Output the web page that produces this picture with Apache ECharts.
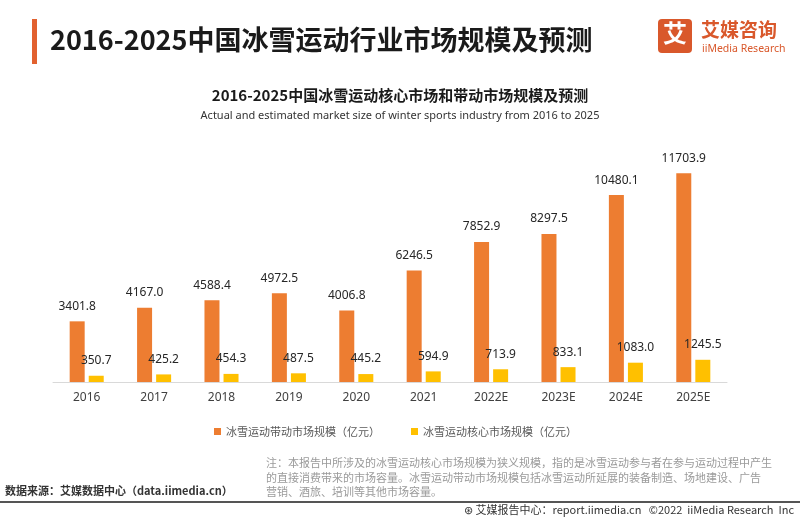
<!DOCTYPE html>
<html>
<head>
<meta charset="utf-8">
<script src="https://cdn.jsdelivr.net/npm/echarts@6/dist/echarts.min.js"></script>
<style>
html,body{margin:0;padding:0;background:#fff;}
#main{width:800px;height:520px;}
</style>
</head>
<body>
<div id="main"></div>
<script>
const categories = ['2016','2017','2018','2019','2020','2021','2022E','2023E','2024E','2025E'];
const drivenMarket = [3401.8,4167.0,4588.4,4972.5,4006.8,6246.5,7852.9,8297.5,10480.1,11703.9];
const coreMarket = [350.7,425.2,454.3,487.5,445.2,594.9,713.9,833.1,1083.0,1245.5];
const seriesNames = ['冰雪运动带动市场规模（亿元）','冰雪运动核心市场规模（亿元）'];

const CJK = '"Noto Sans CJK SC", "Noto Sans", sans-serif';
const LAT = '"Noto Sans", sans-serif';

const chart = echarts.init(document.getElementById('main'), null, {renderer:'canvas'});
chart.setOption({
  backgroundColor:'#ffffff',
  animation:false,
  textStyle:{fontFamily:CJK},
  grid:{left:53,right:73,top:168,bottom:138},
  legend:{
    bottom:78,left:209,itemWidth:7,itemHeight:7,itemGap:31,
    icon:'rect',
    textStyle:{fontSize:11,color:'#595959',fontFamily:CJK},
    data:seriesNames
  },
  xAxis:{
    type:'category',data:categories,
    axisLine:{lineStyle:{color:'#d9d9d9',width:1}},
    axisTick:{show:false},
    axisLabel:{color:'#404040',fontSize:12,fontFamily:LAT,margin:10}
  },
  yAxis:{type:'value',min:0,max:12000,show:false,splitLine:{show:false}},
  series:[
    {name:seriesNames[0],type:'bar',data:drivenMarket,barWidth:15,barGap:'27%',
     itemStyle:{color:'#ED7D31'},
     label:{show:true,position:'top',distance:9,color:'#262626',fontSize:12,fontFamily:LAT,
       formatter:p=>p.value.toFixed(1)}},
    {name:seriesNames[1],type:'bar',data:coreMarket,barWidth:15,
     itemStyle:{color:'#FFC000'},
     label:{show:true,position:'top',distance:9,color:'#262626',fontSize:12,fontFamily:LAT,
       formatter:p=>p.value.toFixed(1)}}
  ],
  graphic:[
    {type:'rect',left:32,top:19,shape:{width:5,height:45},style:{fill:'#E2612F'}},
    {type:'text',left:50,top:26,style:{text:'2016-2025中国冰雪运动行业市场规模及预测',font:'bold 27px '+CJK,fill:'#1a1a1a'}},
    {type:'rect',left:658,top:19,shape:{width:34,height:34,r:4},style:{fill:'#D9582B'}},
    {type:'text',left:663,top:21,style:{text:'艾',font:'bold 24px '+CJK,fill:'#ffffff'}},
    {type:'text',left:701,top:20,style:{text:'艾媒咨询',font:'bold 19px '+CJK,fill:'#D9582B'}},
    {type:'text',left:702,top:44,style:{text:'iiMedia Research',font:'10.5px "Noto Sans", sans-serif',fill:'#D9582B'}},
    {type:'text',left:'center',top:88,style:{text:'2016-2025中国冰雪运动核心市场和带动市场规模及预测',font:'bold 15px '+CJK,fill:'#1a1a1a'}},
    {type:'text',left:'center',top:110,style:{text:'Actual and estimated market size of winter sports industry from 2016 to 2025',font:'11px "Noto Sans", sans-serif',fill:'#333333'}},
    {type:'text',left:266,top:456,style:{text:'注：本报告中所涉及的冰雪运动核心市场规模为狭义规模，指的是冰雪运动参与者在参与运动过程中产生\n的直接消费带来的市场容量。冰雪运动带动市场规模包括冰雪运动所延展的装备制造、场地建设、广告\n营销、酒旅、培训等其他市场容量。',font:'11px '+CJK,fill:'#9a9a9a',lineHeight:14.5}},
    {type:'text',left:5,top:485,style:{text:'数据来源：艾媒数据中心（data.iimedia.cn）',font:'bold 11px '+CJK,fill:'#333333'}},
    {type:'rect',left:0,top:501,shape:{width:800,height:2},style:{fill:'#555555'}},
    {type:'text',right:6,top:504,style:{text:'⊛ 艾媒报告中心：report.iimedia.cn   ©2022  iiMedia Research  Inc',font:'11px '+CJK,fill:'#333333'}}
  ]
});
</script>
</body>
</html>
